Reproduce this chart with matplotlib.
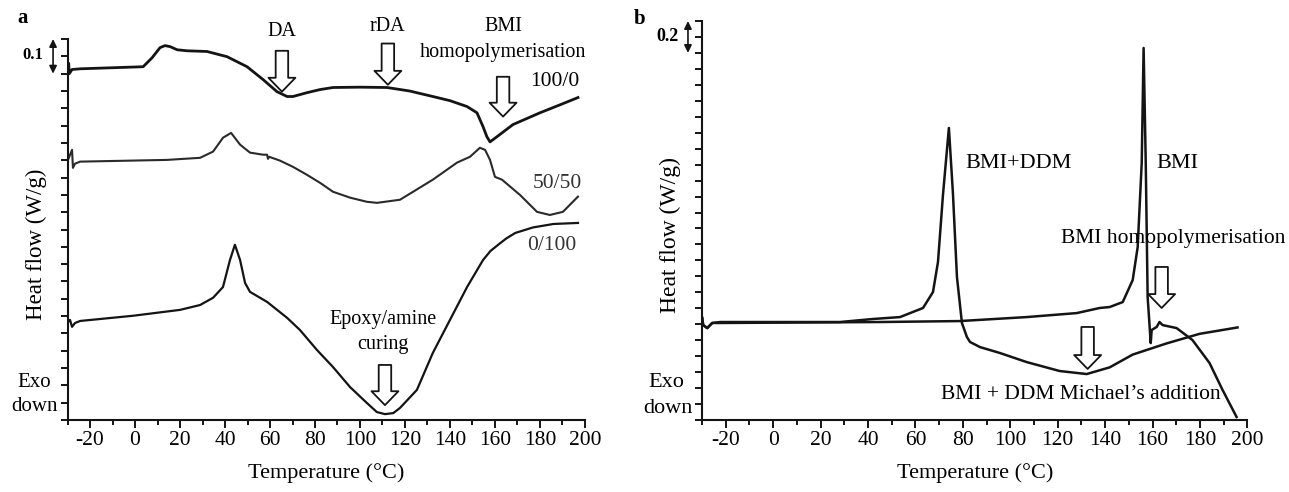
import matplotlib.pyplot as plt
from matplotlib.ticker import MultipleLocator, NullFormatter

plt.rcParams['font.family'] = ['Liberation Serif', 'DejaVu Serif']
plt.rcParams['axes.unicode_minus'] = False

# --- panel a : DSC traces of the blends (curves are offset), T in °C, heat flow in W/g ---
t_100_0 = [-29.8, -29.5, -29.2, -28.0, -24.4, 3.6, 7.6, 11.1, 13.3, 15.6, 18.7, 23.1, 32.0,
           40.9, 49.8, 56.9, 63.1, 67.6, 70.2, 76.4, 82.2, 88.0, 100.0, 112.0, 122.0, 132.4,
           140.0, 147.6, 152.0, 154.7, 156.4, 157.8, 160.9, 168.0, 180.0, 188.9, 196.9]
hf_100_0 = [1.015, 1.030, 1.000, 1.012, 1.014, 1.020, 1.046, 1.075, 1.081, 1.078, 1.069, 1.066,
            1.064, 1.049, 1.020, 0.983, 0.948, 0.934, 0.934, 0.945, 0.954, 0.960, 0.961, 0.960,
            0.950, 0.934, 0.922, 0.905, 0.887, 0.847, 0.818, 0.803, 0.818, 0.853, 0.887, 0.910, 0.931]

t_50_50 = [-29.8, -28.0, -27.6, -26.7, -24.4, 14.2, 28.9, 34.7, 39.1, 42.7, 46.7, 51.1, 56.9,
           58.7, 59.1, 59.6, 64.4, 70.2, 76.4, 82.2, 88.0, 95.6, 103.1, 107.6, 117.8, 132.4,
           143.1, 148.9, 153.3, 155.6, 157.8, 160.0, 163.1, 171.1, 178.7, 184.4, 190.2, 196.9]
hf_50_50 = [0.751, 0.780, 0.728, 0.740, 0.746, 0.751, 0.757, 0.775, 0.815, 0.829, 0.795, 0.772,
            0.766, 0.766, 0.754, 0.760, 0.749, 0.731, 0.708, 0.685, 0.659, 0.642, 0.630, 0.627,
            0.636, 0.694, 0.743, 0.760, 0.786, 0.780, 0.751, 0.702, 0.694, 0.650, 0.601, 0.592,
            0.601, 0.645]

t_0_100 = [-29.8, -28.9, -28.0, -26.7, -24.4, -0.9, 20.0, 28.9, 34.7, 39.1, 42.2, 44.4, 46.7,
           48.9, 51.1, 58.7, 67.6, 73.3, 80.9, 88.0, 95.6, 103.1, 107.5, 111.1, 114.8, 117.8,
           125.3, 132.4, 140.0, 147.6, 154.7, 158.0, 162.2, 165.0, 169.0, 176.9, 186.0, 196.9]
hf_0_100 = [0.283, 0.289, 0.269, 0.280, 0.286, 0.301, 0.318, 0.332, 0.353, 0.384, 0.462, 0.506,
            0.462, 0.396, 0.370, 0.341, 0.295, 0.260, 0.202, 0.153, 0.095, 0.049, 0.023, 0.017,
            0.020, 0.035, 0.087, 0.194, 0.289, 0.384, 0.462, 0.488, 0.510, 0.524, 0.540, 0.556,
            0.566, 0.569]

# --- panel b : BMI alone and BMI+DDM ---
t_bmi_ddm = [-29.9, -29.5, -27.8, -25.7, -22.3, 28.2, 42.1, 53.5, 63.2, 67.4, 69.5, 71.6, 74.1,
             75.8, 77.5, 79.6, 81.7, 83.0, 87.2, 95.6, 106.9, 120.8, 132.2, 141.9, 151.6,
             165.9, 179.8, 195.8]
hf_bmi_ddm = [0.639, 0.595, 0.576, 0.608, 0.614, 0.614, 0.633, 0.645, 0.702, 0.802, 0.990, 1.410,
              1.830, 1.422, 0.896, 0.608, 0.520, 0.489, 0.457, 0.420, 0.363, 0.307, 0.288,
              0.330, 0.410, 0.480, 0.540, 0.580]

t_bmi = [-29.9, -29.5, -27.8, -25.7, -22.3, 45.0, 78.7, 106.9, 128.0, 137.7, 141.9, 147.4, 151.6,
         153.7, 155.4, 156.2, 157.1, 157.9, 159.2, 159.6, 161.7, 162.9, 164.2, 170.1, 176.8,
         184.0, 189.5, 195.4]
hf_bmi = [0.639, 0.595, 0.576, 0.608, 0.608, 0.614, 0.620, 0.645, 0.670, 0.702, 0.708, 0.739,
          0.877, 1.084, 1.610, 2.331, 1.610, 0.771, 0.482, 0.564, 0.583, 0.614, 0.595, 0.576,
          0.501, 0.357, 0.188, 0.019]

line_col = '#141414'


def down_arrow(ax, x, y_tip, y_top):
    # hollow block arrow used to point at the transitions
    ax.annotate('', xy=(x, y_tip), xytext=(x, y_top), annotation_clip=False,
                arrowprops=dict(arrowstyle='simple,head_length=0.5,head_width=0.97,tail_width=0.45',
                                fc='white', ec=line_col, lw=1.3, shrinkA=0, shrinkB=0,
                                mutation_scale=20))


def scale_bar(ax, xfrac, y0, y1):
    ax.annotate('', xy=(xfrac, y0), xytext=(xfrac, y1), xycoords=('axes fraction', 'data'),
                textcoords=('axes fraction', 'data'), annotation_clip=False,
                arrowprops=dict(arrowstyle='<|-|>,head_length=0.45,head_width=0.22',
                                color=line_col, lw=1.2, shrinkA=0, shrinkB=0, mutation_scale=10))


def style_axes(ax, ymax, ystep):
    ax.set_xlim(-30, 200)
    ax.set_ylim(0, ymax)
    for s in ['top', 'right']:
        ax.spines[s].set_visible(False)
    for s in ['left', 'bottom']:
        ax.spines[s].set_linewidth(1.5)
        ax.spines[s].set_color(line_col)
    ax.xaxis.set_major_locator(MultipleLocator(20))
    ax.xaxis.set_minor_locator(MultipleLocator(10))
    ax.yaxis.set_major_locator(MultipleLocator(ystep))
    ax.yaxis.set_major_formatter(NullFormatter())
    ax.tick_params(axis='x', which='major', length=6, width=1.4, labelsize=15.5, pad=2,
                   color=line_col)
    ax.tick_params(axis='x', which='minor', length=3.5, width=1.4, color=line_col)
    ax.tick_params(axis='y', length=5, width=1.4, color=line_col)
    ax.set_xlabel('Temperature (°C)', fontsize=16, labelpad=9)


fig = plt.figure(figsize=(12.89, 4.92), dpi=100)

# ---------------- a ----------------
ax_a = fig.add_axes([0.0524, 0.1463, 0.4014, 0.7744])
style_axes(ax_a, 1.1, 0.05)
ax_a.plot(t_100_0, hf_100_0, color=line_col, lw=2.0)
ax_a.plot(t_50_50, hf_50_50, color='#2a2a2a', lw=1.5)
ax_a.plot(t_0_100, hf_0_100, color=line_col, lw=1.6)

txt = dict(ha='center', va='center', fontsize=14.5)
ax_a.text(65.3, 1.121, 'DA', **txt)
ax_a.text(112.0, 1.136, 'rDA', **txt)
ax_a.text(163.6, 1.136, 'BMI', **txt)
ax_a.text(163.6, 1.062, 'homopolymerisation', **txt)
ax_a.text(186.7, 0.977, '100/0', ha='center', va='center', fontsize=15.5)
ax_a.text(187.6, 0.682, '50/50', ha='center', va='center', fontsize=15.5, color='#333333')
ax_a.text(185.3, 0.503, '0/100', ha='center', va='center', fontsize=15.5, color='#333333')
ax_a.text(110.2, 0.289, 'Epoxy/amine', **txt)
ax_a.text(110.2, 0.217, 'curing', **txt)

down_arrow(ax_a, 65.3, 0.948, 1.066)
down_arrow(ax_a, 112.4, 0.968, 1.087)
down_arrow(ax_a, 163.6, 0.876, 0.991)
down_arrow(ax_a, 111.1, 0.043, 0.159)

scale_bar(ax_a, -0.028, 1.0, 1.1)
ax_a.text(-45.3, 1.055, '0.1', ha='center', va='center', fontsize=12, fontweight='bold')
ax_a.text(-44.9, 0.107, 'Exo', ha='center', va='center', fontsize=15)
ax_a.text(-44.9, 0.038, 'down', ha='center', va='center', fontsize=15)
fig.text(36 / 1289, 1 - 244 / 492, 'Heat flow (W/g)', rotation=90, ha='center', va='center',
         fontsize=16.5)
fig.text(23 / 1289, 1 - 18 / 492, 'a', ha='center', va='center', fontsize=15, fontweight='bold')

# ---------------- b ----------------
ax_b = fig.add_axes([0.5446, 0.1463, 0.4232, 0.811])
style_axes(ax_b, 2.5, 0.1)
ax_b.plot(t_bmi, hf_bmi, color=line_col, lw=1.8)
ax_b.plot(t_bmi_ddm, hf_bmi_ddm, color=line_col, lw=1.8)

txt_b = dict(ha='center', va='center', fontsize=16)
ax_b.text(103.6, 1.61, 'BMI+DDM', **txt_b)
ax_b.text(170.5, 1.61, 'BMI', **txt_b)
ax_b.text(168.8, 1.14, 'BMI homopolymerisation', ha='center', va='center', fontsize=15.5)
ax_b.text(129.7, 0.157, 'BMI + DDM Michael\u2019s addition', ha='center', va='center',
          fontsize=15.5)

down_arrow(ax_b, 163.8, 0.702, 0.959)
down_arrow(ax_b, 132.6, 0.320, 0.583)

scale_bar(ax_b, -0.0257, 2.3, 2.5)
ax_b.text(-44.6, 2.40, '0.2', ha='center', va='center', fontsize=13, fontweight='bold')
ax_b.text(-45.0, 0.238, 'Exo', ha='center', va='center', fontsize=16)
ax_b.text(-44.2, 0.075, 'down', ha='center', va='center', fontsize=16)
fig.text(670 / 1289, 1 - 235 / 492, 'Heat flow (W/g)', rotation=90, ha='center', va='center',
         fontsize=17)
fig.text(640 / 1289, 1 - 19 / 492, 'b', ha='center', va='center', fontsize=15, fontweight='bold')

fig.savefig('out.png', dpi=100)
